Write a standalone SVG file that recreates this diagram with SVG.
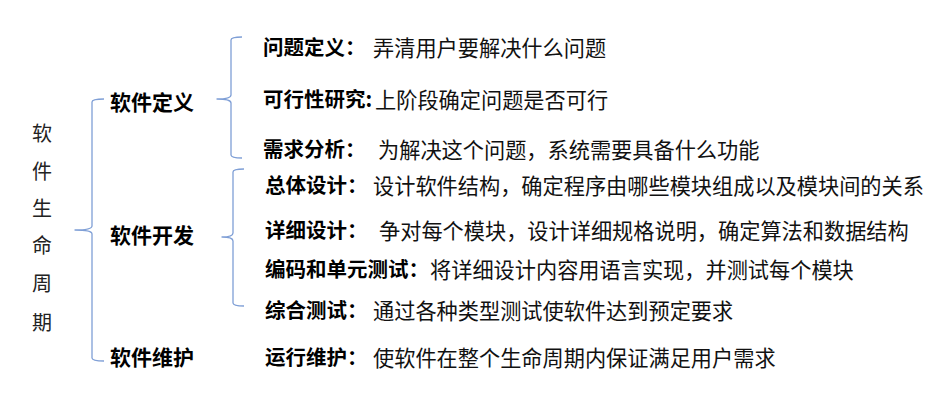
<svg xmlns="http://www.w3.org/2000/svg" width="935" height="409" viewBox="0 0 935 409">
<style>
text{font-family:"Noto Sans CJK SC","Microsoft YaHei",sans-serif;dominant-baseline:central;fill:#111}
.title{font-size:20px;font-weight:400;fill:#222}
.phase{font-size:21px;font-weight:700;fill:#000}
.lab{font-size:20.5px;font-weight:700;fill:#000}
.desc{font-size:21.2px;font-weight:400}
.br{fill:none;stroke:#7f9fd6;stroke-width:1.3;stroke-linejoin:round}
</style>
<rect width="935" height="409" fill="#fff"/>
<g id="connectors">
<path class="br" d="M104,99 Q92,99 92,102 L92,226 Q92,230 75,230 Q92,230 92,234 L92,358 Q92,361 104,361"/>
<path class="br" d="M242,37 Q231,37 231,40 L231,95 Q231,99 217,99 Q231,99 231,103 L231,155 Q231,158 242,158"/>
<path class="br" d="M244,169 Q233,169 233,172 L233,233 Q233,237 222,237 Q233,237 233,241 L233,303 Q233,306 244,306"/>
</g>
<g id="root">
<text class="title" x="42" y="132" text-anchor="middle">软</text>
<text class="title" x="42" y="170" text-anchor="middle">件</text>
<text class="title" x="42" y="207" text-anchor="middle">生</text>
<text class="title" x="42" y="244" text-anchor="middle">命</text>
<text class="title" x="42" y="282" text-anchor="middle">周</text>
<text class="title" x="42" y="321" text-anchor="middle">期</text>
</g>
<g id="phase-define"><text class="phase" x="110" y="101">软件定义</text></g>
<g id="phase-develop"><text class="phase" x="110" y="234">软件开发</text></g>
<g id="phase-maintain"><text class="phase" x="110" y="356">软件维护</text></g>
<g id="item-1"><text class="lab" x="263" y="46">问题定义：</text><text class="desc" x="373" y="46">弄清用户要解决什么问题</text></g>
<g id="item-2"><text class="lab" x="263" y="98">可行性研究:</text><text class="desc" x="375" y="98">上阶段确定问题是否可行</text></g>
<g id="item-3"><text class="lab" x="263" y="148">需求分析：</text><text class="desc" x="378" y="148">为解决这个问题，系统需要具备什么功能</text></g>
<g id="item-4"><text class="lab" x="265" y="184">总体设计：</text><text class="desc" x="373" y="184">设计软件结构，确定程序由哪些模块组成以及模块间的关系</text></g>
<g id="item-5"><text class="lab" x="265" y="229">详细设计：</text><text class="desc" x="379" y="229">争对每个模块，设计详细规格说明，确定算法和数据结构</text></g>
<g id="item-6"><text class="lab" x="265" y="268">编码和单元测试：</text><text class="desc" x="430" y="268">将详细设计内容用语言实现，并测试每个模块</text></g>
<g id="item-7"><text class="lab" x="265" y="309">综合测试：</text><text class="desc" x="373" y="309">通过各种类型测试使软件达到预定要求</text></g>
<g id="item-8"><text class="lab" x="265" y="356">运行维护：</text><text class="desc" x="373" y="356">使软件在整个生命周期内保证满足用户需求</text></g>
</svg>
